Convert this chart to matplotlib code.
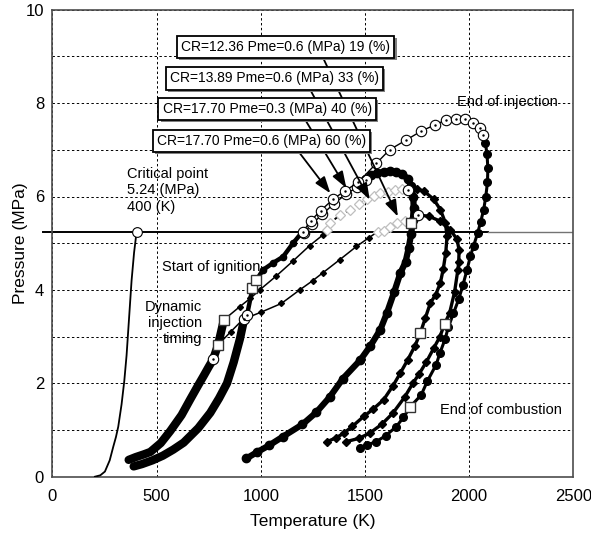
import matplotlib
matplotlib.use('Agg')
import matplotlib.pyplot as plt
import matplotlib.patheffects as pe

plt.rcParams['font.family'] = ['Liberation Sans', 'DejaVu Sans']

# critical point curve (K, MPa)
crit_T = [204, 230, 252, 275, 292, 305, 316, 332, 345, 356, 368, 380, 392, 404]
crit_P = [0.0, 0.03, 0.11, 0.35, 0.64, 0.85, 1.07, 1.55, 2.05, 2.6, 3.4, 4.2, 4.8, 5.24]
crit_point = (404, 5.24)

# compression bands (left: CR 12.36 / 13.89, right: CR 17.70)
compL_T = [366, 400, 440, 470, 520, 566, 620, 662, 700, 726, 750, 771, 795, 823]
compL_P = [0.36, 0.42, 0.48, 0.53, 0.72, 0.98, 1.32, 1.66, 1.96, 2.16, 2.35, 2.51, 2.82, 3.36]
compR_T = [390, 430, 480, 530, 580, 630, 700, 758, 800, 838, 870, 900, 920]
compR_P = [0.22, 0.27, 0.35, 0.45, 0.58, 0.73, 1.04, 1.37, 1.68, 2.0, 2.45, 2.95, 3.37]

# CR=17.70 after injection start up to 1200 K
ab_T = [920, 934, 960, 979, 1011, 1060, 1107, 1155, 1203]
ab_P = [3.37, 3.46, 4.03, 4.21, 4.43, 4.58, 4.71, 5.0, 5.26]

# thin lines after ignition for CR=13.89 (L1) and CR=12.36 (L2)
l1_T = [823, 899, 950, 995, 1075, 1155, 1235, 1299, 1318]
l1_P = [3.36, 3.64, 3.82, 4.0, 4.3, 4.62, 4.95, 5.18, 5.28]
l2_T = [795, 855, 915, 1000, 1099, 1187, 1250, 1299, 1380, 1459, 1520, 1562]
l2_P = [2.82, 3.1, 3.37, 3.52, 3.71, 4.0, 4.2, 4.37, 4.65, 4.93, 5.12, 5.25]

# light dashed chains
upC_T = [1318, 1334, 1380, 1430, 1470, 1510, 1545, 1574, 1610, 1645, 1680, 1706]
upC_P = [5.28, 5.44, 5.6, 5.72, 5.85, 5.94, 6.02, 6.08, 6.1, 6.13, 6.15, 6.14]
lowD_T = [1562, 1590, 1620, 1654, 1690, 1722]
lowD_P = [5.25, 5.27, 5.35, 5.44, 5.47, 5.44]

# injection circles, CR=17.70 Pme=0.6 (A) and Pme=0.3 (B)
circA_T = [1203, 1240, 1288, 1347, 1403, 1467, 1555, 1618, 1698, 1770, 1834, 1890, 1938, 1978, 2018, 2050, 2066]
circA_P = [5.25, 5.48, 5.70, 5.94, 6.12, 6.30, 6.71, 7.0, 7.21, 7.40, 7.53, 7.64, 7.67, 7.65, 7.57, 7.46, 7.32]
circB_T = [1206, 1248, 1296, 1352, 1410, 1462, 1507]
circB_P = [5.22, 5.42, 5.62, 5.85, 6.05, 6.2, 6.35]

# combustion / expansion
expA_T = [2066, 2078, 2086, 2090, 2088, 2080, 2070, 2055, 2041, 2022, 2006, 1990, 1970, 1950, 1925,
          1900, 1885, 1860, 1842, 1800, 1770, 1718, 1685, 1650, 1600, 1554, 1510, 1474]
expA_P = [7.32, 7.15, 6.9, 6.6, 6.3, 6.0, 5.72, 5.45, 5.22, 4.95, 4.72, 4.43, 4.1, 3.8, 3.5,
          3.2, 2.95, 2.65, 2.4, 2.05, 1.75, 1.5, 1.27, 1.07, 0.88, 0.75, 0.68, 0.62]
expB_T = [1507, 1530, 1560, 1590, 1620, 1650, 1680, 1705, 1722, 1732, 1734, 1730, 1722, 1710, 1695,
          1670, 1640, 1605, 1574, 1526, 1478, 1394, 1330, 1267, 1200, 1107, 1040, 980, 931]
expB_P = [6.38, 6.45, 6.5, 6.53, 6.54, 6.53, 6.48, 6.38, 6.22, 6.0, 5.75, 5.5, 5.2, 4.9, 4.6,
          4.36, 3.95, 3.5, 3.15, 2.8, 2.5, 2.1, 1.7, 1.38, 1.12, 0.86, 0.67, 0.52, 0.39]
expC_T = [1706, 1750, 1782, 1830, 1862, 1886, 1894, 1888, 1876, 1862, 1840, 1814, 1790, 1766, 1740,
          1705, 1670, 1635, 1590, 1540, 1494, 1440, 1398, 1360, 1318]
expC_P = [6.14, 6.15, 6.12, 5.94, 5.72, 5.44, 5.15, 4.8, 4.45, 4.15, 3.9, 3.72, 3.4, 3.08, 2.8,
          2.5, 2.22, 1.95, 1.65, 1.45, 1.29, 1.08, 0.93, 0.83, 0.75]
expD_T = [1754, 1806, 1862, 1910, 1942, 1952, 1950, 1946, 1930, 1906, 1882, 1860, 1830, 1794, 1760,
          1730, 1690, 1634, 1580, 1522, 1470, 1410]
expD_P = [5.6, 5.58, 5.47, 5.29, 5.08, 4.85, 4.6, 4.43, 3.95, 3.5, 3.27, 3.0, 2.75, 2.45, 2.2,
          2.0, 1.7, 1.36, 1.12, 0.93, 0.82, 0.75]

# single markers
inj_T = [771, 920, 934, 1706, 1754]
inj_P = [2.51, 3.37, 3.46, 6.14, 5.6]
ign_T = [795, 823, 960, 979]
ign_P = [2.82, 3.36, 4.03, 4.21]
eoc_T = [1722, 1766, 1882, 1718]
eoc_P = [5.44, 3.08, 3.27, 1.5]

box_labels = ['CR=12.36 Pme=0.6 (MPa) 19 (%)', 'CR=13.89 Pme=0.6 (MPa) 33 (%)',
              'CR=17.70 Pme=0.3 (MPa) 40 (%)', 'CR=17.70 Pme=0.6 (MPa) 60 (%)']
box_T = [1120, 1067, 1031, 1003]
box_P = [9.2, 8.53, 7.87, 7.19]
arrow_from = [(1299, 8.97), (1243, 8.24), (1219, 7.6), (1180, 6.97)]
arrow_to = [(1658, 5.57), (1523, 5.93), (1411, 6.18), (1334, 6.07)]

fig = plt.figure(figsize=(5.91, 5.33), dpi=100)
ax = fig.add_axes([52.4 / 591, 1 - 476.7 / 533, (573.3 - 52.4) / 591, (476.7 - 9.7) / 533])

# critical pressure line
ax.plot([-45, 2090], [5.24, 5.24], color='k', lw=1.4, clip_on=False, zorder=2)
ax.plot([2090, 2500], [5.24, 5.24], color='0.45', lw=1.0, zorder=2)
ax.plot(crit_T, crit_P, color='k', lw=1.3, zorder=3)

# thick compression bands
ax.plot(compL_T, compL_P, color='k', lw=6, solid_capstyle='round', zorder=3)
ax.plot(compR_T, compR_P, color='k', lw=6, solid_capstyle='round', zorder=3)
ax.plot(ab_T, ab_P, color='k', lw=3.2, marker='o', ms=4.5, zorder=3)

ax.plot(l1_T, l1_P, color='k', lw=1.1, marker='D', ms=3, zorder=3)
ax.plot(l2_T, l2_P, color='k', lw=1.1, marker='D', ms=3, zorder=3)

# expansion curves
ax.plot(expA_T, expA_P, color='k', lw=2.2, marker='o', ms=5.5, zorder=3)
ax.plot(expB_T, expB_P, color='k', lw=4.5, marker='o', ms=6, zorder=3)
ax.plot(expC_T, expC_P, color='k', lw=2.4, marker='D', ms=4, zorder=3)
ax.plot(expD_T, expD_P, color='k', lw=2.4, marker='D', ms=4, zorder=3)

# light dashed chains
for T, P in [(upC_T, upC_P), (lowD_T, lowD_P)]:
    ax.plot(T, P, color='k', lw=1.4, ls=(0, (3, 4)), marker='D', ms=5,
            mfc='white', mec='0.75', mew=0.9, zorder=4)

# injection circles
for T, P in [(circB_T, circB_P), (circA_T, circA_P)]:
    ax.plot(T, P, color='k', lw=1.0, marker='o', ms=7.5, mfc='white', mec='k', mew=0.8, zorder=5)
    ax.plot(T, P, ls='none', marker='.', ms=1.5, color='k', zorder=5)
ax.plot(inj_T, inj_P, ls='none', marker='o', ms=7.5, mfc='white', mec='k', mew=0.8, zorder=5)
ax.plot(inj_T, inj_P, ls='none', marker='.', ms=1.5, color='k', zorder=5)
ax.plot(*crit_point, marker='o', ms=7, mfc='white', mec='k', mew=0.8, zorder=5)

# squares
ax.plot(ign_T, ign_P, ls='none', marker='s', ms=7.5, mfc='white', mec='0.2', mew=1.0, zorder=6)
ax.plot(eoc_T, eoc_P, ls='none', marker='s', ms=7.5, mfc='white', mec='0.2', mew=1.0, zorder=6)

# arrows and labelled boxes
for start, end in zip(arrow_from, arrow_to):
    ax.annotate('', xy=end, xytext=start, zorder=7,
                arrowprops=dict(arrowstyle='-|>,head_length=1.0,head_width=0.35',
                                color='k', lw=1.3, shrinkA=0, shrinkB=0))
for txt, T, P in zip(box_labels, box_T, box_P):
    t = ax.text(T, P, txt, ha='center', va='center', fontsize=10, zorder=8,
                bbox=dict(boxstyle='square,pad=0.3', fc='white', ec='k', lw=1.3))
    t.get_bbox_patch().set_path_effects([pe.withSimplePatchShadow(offset=(1.5, -1.5),
                                                                 shadow_rgbFace='0.5', alpha=1.0)])

ax.text(356, 6.13, 'Critical point\n5.24 (MPa)\n400 (K)', ha='left', va='center', fontsize=10.5, zorder=8)
ax.text(524, 4.5, 'Start of ignition', ha='left', va='center', fontsize=10.5, zorder=8)
ax.text(720, 3.29, 'Dynamic\ninjection\ntiming', ha='right', va='center', multialignment='right',
        fontsize=10.5, zorder=8)
ax.text(1941, 8.03, 'End of injection', ha='left', va='center', fontsize=10.5, zorder=8)
ax.text(1858, 1.43, 'End of combustion', ha='left', va='center', fontsize=10.5, zorder=8)

ax.set_xlim(0, 2500)
ax.set_ylim(0, 10)
ax.set_xticks(range(0, 2501, 500))
ax.set_yticks(range(0, 11, 2))
ax.set_yticks(range(1, 10, 2), minor=True)
ax.tick_params(which='both', length=0, labelsize=12)
ax.tick_params(axis='x', pad=9)
ax.tick_params(axis='y', pad=6)
ax.grid(True, which='both', color='k', lw=0.7, ls=(0, (2.5, 2.5)), zorder=0)
ax.set_axisbelow(True)
for s in ax.spines.values():
    s.set_color('0.3')
    s.set_linewidth(1.2)
ax.set_xlabel('Temperature (K)', fontsize=12.5, labelpad=7)
ax.set_ylabel('Pressure (MPa)', fontsize=12.5, labelpad=-1.5)

fig.savefig('out.png', dpi=100)
